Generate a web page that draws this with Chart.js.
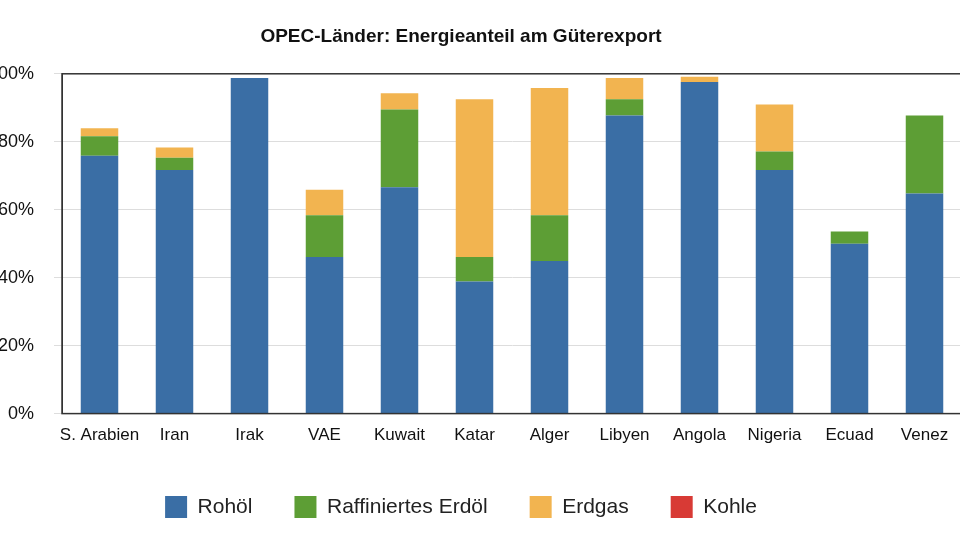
<!DOCTYPE html>
<html><head><meta charset="utf-8">
<script src="https://cdn.jsdelivr.net/npm/chart.js@4"></script>
<style>html,body{margin:0;padding:0;overflow:hidden;background:#fff;width:960px;height:542px}
#w{position:absolute;left:-40px;top:0;width:1040px;height:542px}</style></head>
<body><div id="w"><canvas id="c"></canvas></div>
<script>
const categories=["S. Arabien","Iran","Irak","VAE","Kuwait","Katar","Alger","Libyen","Angola","Nigeria","Ecuad","Venez"];
const rohoel=[75.9,71.7,98.8,46.1,66.6,38.9,44.9,87.7,97.6,71.7,50.0,64.8];
const raffiniert=[5.7,3.6,0,12.3,22.9,7.2,13.5,4.8,0,5.4,3.6,22.9];
const erdgas=[2.4,3.0,0,7.5,4.8,46.4,37.4,6.3,1.5,13.9,0,0];
const kohle=[0,0,0,0,0,0,0,0,0,0,0,0];
const yTicks=[0,20,40,60,80,100];
const F="'Liberation Sans', Arial, sans-serif";
const mk=(l,d,c)=>({label:l,data:d,backgroundColor:c,barPercentage:1,categoryPercentage:0.5});
new Chart(document.getElementById('c'),{type:'bar',
data:{labels:categories,datasets:[mk('Rohöl',rohoel,'#3a6ea5'),mk('Raffiniertes Erdöl',raffiniert,'#5d9e35'),mk('Erdgas',erdgas,'#f2b450'),mk('Kohle',kohle,'#d83a35')]},
options:{responsive:true,maintainAspectRatio:false,animation:false,
layout:{padding:{top:10,right:38,bottom:14,left:0}},
plugins:{title:{display:true,text:'OPEC-Länder: Energieanteil am Güterexport',font:{family:F,size:19,weight:'bold'},color:'#111',padding:{top:15,bottom:26}},
legend:{position:'bottom',labels:{font:{family:F,size:21},color:'#222',boxWidth:22,boxHeight:22,padding:42},
 onClick:null},tooltip:{enabled:false}},
scales:{x:{stacked:true,grid:{display:false},border:{color:'#333'},afterFit:s=>{s.height+=4},ticks:{font:{family:F,size:17},color:'#111',maxRotation:0,autoSkip:false,padding:4}},
y:{stacked:true,min:0,max:100,afterFit:s=>{s.width=102},afterBuildTicks:s=>{s.ticks=yTicks.map(v=>({value:v}))},
 grid:{color:'#ddd'},border:{color:'#333'},ticks:{font:{family:F,size:18},color:'#111',padding:20,callback:v=>v+'%'}}}},
plugins:[{id:'frame',afterDraw(ch){const a=ch.chartArea,x=ch.ctx;x.save();x.strokeStyle='#333';x.lineWidth=1.5;x.strokeRect(a.left,a.top,a.right-a.left,a.bottom-a.top);x.restore();}}]
});
</script></body></html>
